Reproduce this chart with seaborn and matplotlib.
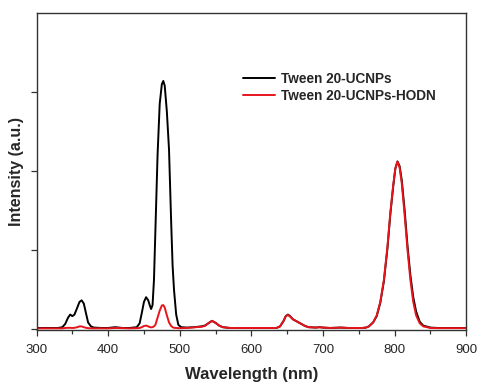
import numpy as np
import pandas as pd
import matplotlib
matplotlib.use("Agg")
import matplotlib.pyplot as plt
import seaborn as sns
from matplotlib.ticker import MultipleLocator, NullFormatter

wavelength = [
    300, 310, 320, 330, 336, 340, 344, 347, 350, 353,
    357, 360, 363, 366, 369, 372, 376, 380, 390, 400,
    410, 420, 430, 440, 444, 447, 450, 453, 456, 458,
    460, 462, 464, 466, 469, 472, 475, 477, 479, 482,
    485, 488, 490, 492, 495, 498, 502, 510, 520, 530,
    535, 540, 545,
    550, 555, 560, 570, 580, 590, 600, 610, 620, 630,
    635, 640, 645, 648, 651, 654, 658, 662, 666, 670,
    675, 680, 690, 695, 700, 710, 725, 735, 745, 755,
    760, 764, 770, 775, 780, 785, 790, 794, 798, 801,
    804, 807, 810, 814, 818, 822, 826, 830, 835, 840,
    850, 860, 870, 880, 890, 900,
]
ucnps = [
    0.01, 0.01, 0.01, 0.01, 0.02, 0.06, 0.14, 0.18, 0.16, 0.18,
    0.27, 0.34, 0.36, 0.32, 0.20, 0.08, 0.03, 0.015, 0.01, 0.01,
    0.02, 0.01, 0.01, 0.02, 0.07, 0.20, 0.34, 0.40, 0.36, 0.30,
    0.25, 0.30, 0.62, 1.25, 2.20, 2.85, 3.10, 3.14, 3.08, 2.75,
    2.27, 1.35, 0.80, 0.49, 0.18, 0.05, 0.02, 0.015, 0.02, 0.03,
    0.04, 0.07, 0.10,
    0.075, 0.04, 0.02, 0.01, 0.01, 0.01, 0.01, 0.01, 0.01, 0.01,
    0.01, 0.03, 0.10, 0.16, 0.18, 0.16, 0.12, 0.10, 0.08, 0.06,
    0.035, 0.02, 0.015, 0.02, 0.015, 0.01, 0.015, 0.01, 0.01, 0.01,
    0.015, 0.03, 0.08, 0.16, 0.33, 0.60, 1.02, 1.45, 1.80, 2.03,
    2.12, 2.06, 1.88, 1.50, 1.05, 0.68, 0.40, 0.22, 0.09, 0.04,
    0.015, 0.01, 0.01, 0.01, 0.01, 0.01,
]
ucnps_hodn = [
    0.005, 0.005, 0.005, 0.005, 0.005, 0.01, 0.012, 0.012, 0.01, 0.012,
    0.02, 0.03, 0.03, 0.02, 0.012, 0.008, 0.005, 0.005, 0.005, 0.005,
    0.01, 0.008, 0.005, 0.008, 0.01, 0.02, 0.035, 0.04, 0.03, 0.022,
    0.018, 0.02, 0.03, 0.05, 0.14, 0.23, 0.295, 0.30, 0.27, 0.17,
    0.08, 0.035, 0.02, 0.012, 0.01, 0.008, 0.008, 0.01, 0.018, 0.025,
    0.035, 0.07, 0.10,
    0.075, 0.04, 0.02, 0.01, 0.01, 0.01, 0.01, 0.01, 0.01, 0.01,
    0.01, 0.03, 0.10, 0.16, 0.175, 0.155, 0.12, 0.10, 0.08, 0.06,
    0.035, 0.02, 0.015, 0.02, 0.015, 0.01, 0.015, 0.01, 0.01, 0.01,
    0.015, 0.03, 0.08, 0.17, 0.34, 0.62, 1.04, 1.47, 1.82, 2.03,
    2.12, 2.04, 1.84, 1.44, 1.00, 0.62, 0.34, 0.17, 0.07, 0.03,
    0.01, 0.008, 0.008, 0.008, 0.008, 0.008,
]
series_names = ["Tween 20-UCNPs", "Tween 20-UCNPs-HODN"]
x_ticks = [300, 400, 500, 600, 700, 800, 900]

df = pd.DataFrame({
    "Wavelength": wavelength * 2,
    "Intensity": ucnps + ucnps_hodn,
    "Sample": [series_names[0]] * len(wavelength) + [series_names[1]] * len(wavelength),
})

sns.set_theme(style="ticks")
plt.rcParams["font.family"] = ["Liberation Sans", "DejaVu Sans"]

fig = plt.figure(figsize=(4.78, 3.85), dpi=100)
ax = fig.add_axes([0.0764, 0.143, 0.899, 0.823])

sns.lineplot(data=df, x="Wavelength", y="Intensity", hue="Sample",
             palette={series_names[0]: "#000000", series_names[1]: "#e8141c"},
             linewidth=1.4, ax=ax, sort=False)

ax.set_xlim(300, 900)
ax.set_ylim(-0.015, 4.0)
ax.set_xticks(x_ticks)
ax.set_xticklabels([str(t) for t in x_ticks], fontsize=9.5)
ax.xaxis.set_minor_locator(MultipleLocator(50))
ax.set_yticks([0, 1, 2, 3])
ax.yaxis.set_major_formatter(NullFormatter())
ax.tick_params(axis="both", which="major", direction="out", length=4, width=0.9,
               color="#333333", pad=6)
ax.tick_params(axis="x", which="minor", direction="out", length=3, width=0.9,
               color="#333333")
for s in ax.spines.values():
    s.set_linewidth(1.0)
    s.set_color("#333333")

ax.set_xlabel("Wavelength (nm)", fontsize=12, fontweight="bold", labelpad=8)
ax.set_ylabel("Intensity (a.u.)", fontsize=11.5, fontweight="bold", labelpad=-1)

leg = ax.legend(loc="upper left", bbox_to_anchor=(0.467, 0.832), frameon=False,
                prop={"size": 9.8, "weight": "bold"}, handlelength=2.4,
                handletextpad=0.4, labelspacing=0.25, borderaxespad=0)

fig.savefig("out.png", dpi=100)
